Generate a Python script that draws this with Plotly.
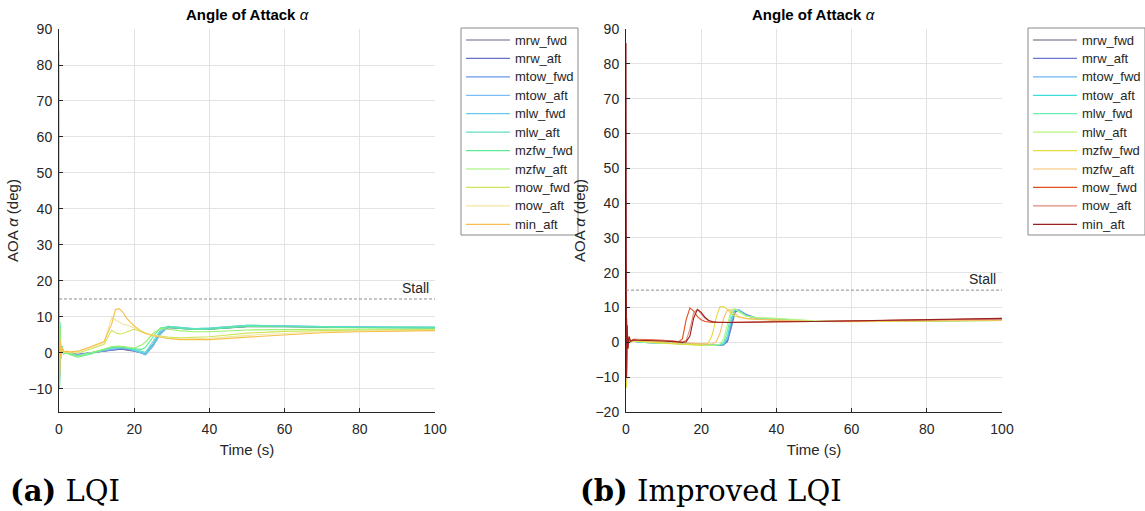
import plotly.graph_objects as go

# ---------------------------------------------------------------
# Series names (same set for both controllers)
# ---------------------------------------------------------------
names = ["mrw_fwd", "mrw_aft", "mtow_fwd", "mtow_aft", "mlw_fwd", "mlw_aft",
         "mzfw_fwd", "mzfw_aft", "mow_fwd", "mow_aft", "min_aft"]

colors_lqi = ["#6b6684", "#6a74c6", "#6a98ee", "#7cbcf6", "#62cce6", "#5fdfc6",
              "#5ceb94", "#9af06c", "#cfe65c", "#f2e6a2", "#f7bf4a"]
colors_imp = ["#6b5a78", "#6a78d0", "#6cb6f6", "#3fdcdc", "#6cefb0", "#b8f57a",
              "#e4dc3a", "#f6bd6a", "#e0501c", "#e08a78", "#982020"]

# ---------------------------------------------------------------
# (a) LQI : time grid and angle of attack (deg) per configuration
# ---------------------------------------------------------------
t_lqi = [0, 0.15, 0.3, 0.5, 0.8, 1.2, 2, 3, 5, 8, 12, 14, 15, 16, 17, 18, 20,
         22, 23, 25, 27, 29, 32, 36, 40, 50, 60, 70, 80, 100]

lqi_mrw_fwd = [2.0, -6.0, 5.0, -1.0, 1.5, 0.0, 0.3, 0.0, -0.4, 0.0, 0.6, 0.8, 0.9,
               1.0, 1.0, 0.9, 0.5, 0.0, -0.2, 2.5, 5.8, 7.1, 6.8, 6.5, 6.6, 7.3,
               7.3, 7.2, 7.1, 7.0]
lqi_mrw_aft = [2.0, -6.5, 5.5, -1.0, 1.5, 0.0, 0.3, 0.0, -0.5, 0.0, 0.6, 0.9, 1.0,
               1.1, 1.1, 1.0, 0.6, 0.0, -0.3, 2.2, 5.6, 7.1, 6.9, 6.6, 6.7, 7.4,
               7.4, 7.2, 7.1, 7.0]
lqi_mtow_fwd = [2.0, -7.0, 6.0, -1.2, 1.6, 0.0, 0.3, 0.0, -0.5, 0.0, 0.7, 1.0, 1.1,
                1.2, 1.2, 1.1, 0.6, -0.1, -0.4, 2.0, 5.4, 7.2, 6.9, 6.6, 6.7, 7.5,
                7.4, 7.2, 7.1, 7.0]
lqi_mtow_aft = [2.0, -7.5, 6.5, -1.3, 1.7, 0.0, 0.3, -0.1, -0.6, 0.0, 0.8, 1.2, 1.3,
                1.4, 1.4, 1.3, 0.8, 0.0, -0.6, 1.8, 5.2, 7.3, 7.0, 6.6, 6.8, 7.6,
                7.5, 7.3, 7.2, 7.1]
lqi_mlw_fwd = [2.0, -8.0, 7.0, -1.4, 1.8, 0.0, 0.2, -0.2, -0.7, -0.1, 0.9, 1.4, 1.5,
               1.5, 1.5, 1.3, 0.8, 0.1, -0.4, 2.4, 5.8, 7.4, 7.1, 6.7, 6.9, 7.7,
               7.5, 7.3, 7.2, 7.1]
lqi_mlw_aft = [2.0, -8.5, 7.5, -1.5, 1.8, 0.0, 0.2, -0.3, -0.8, -0.1, 1.0, 1.5, 1.6,
               1.6, 1.6, 1.4, 1.0, 0.4, 0.2, 3.2, 6.4, 7.4, 7.1, 6.8, 6.9, 7.7,
               7.5, 7.3, 7.2, 7.2]
lqi_mzfw_fwd = [2.0, -10.0, 8.5, -1.6, 1.9, -0.3, 0.0, -0.5, -1.2, -0.4, 0.9, 1.6, 1.7,
                1.7, 1.6, 1.4, 1.1, 1.0, 1.6, 4.5, 7.0, 7.2, 6.8, 6.5, 6.6, 7.4,
                7.3, 7.1, 7.0, 6.9]
lqi_mzfw_aft = [2.0, -9.0, 7.0, -1.2, 1.6, -0.2, 0.2, -0.3, -0.9, -0.1, 1.1, 1.8, 1.9,
                1.9, 1.8, 1.7, 1.4, 2.2, 3.0, 5.4, 6.8, 6.6, 6.2, 5.9, 5.9, 6.4,
                6.6, 6.6, 6.6, 6.6]
lqi_mow_fwd = [30.0, -5.0, 3.0, -0.8, 1.2, 0.2, 0.3, 0.0, 0.0, 1.0, 2.4, 6.3, 5.6,
               5.3, 5.4, 5.8, 6.6, 5.8, 5.4, 5.0, 4.6, 4.4, 4.2, 4.3, 4.5, 5.5,
               6.0, 6.2, 6.3, 6.5]
lqi_mow_aft = [80.0, -6.0, 3.0, -1.0, 1.4, 0.2, 0.4, 0.2, 0.3, 1.3, 2.9, 9.8, 9.2,
               8.4, 8.0, 7.8, 6.9, 6.0, 5.6, 4.9, 4.4, 4.1, 3.9, 3.9, 4.1, 4.9,
               5.5, 5.9, 6.1, 6.3]
lqi_min_aft = [84.0, -7.0, 3.5, -1.0, 1.5, 0.3, 0.5, 0.3, 0.5, 1.6, 3.2, 8.0, 12.0,
               12.3, 11.3, 9.6, 7.5, 6.0, 5.4, 4.8, 4.3, 4.0, 3.7, 3.7, 3.7, 4.4,
               5.1, 5.6, 5.9, 6.2]

# ---------------------------------------------------------------
# (b) Improved LQI : time grid and angle of attack (deg)
# ---------------------------------------------------------------
t_imp = [0, 0.15, 0.3, 0.5, 0.8, 1.2, 2, 3, 5, 10, 13, 14, 15, 16, 17, 18, 19,
         20, 21, 22, 23, 24, 25, 26, 27, 28, 29, 30, 32, 35, 40, 50, 60, 80, 100]

imp_mrw_fwd = [2.0, -3.0, 3.0, -1.0, 1.0, 0.2, 0.3, 0.2, 0.0, -0.2, -0.3, -0.4, -0.4,
               -0.5, -0.5, -0.6, -0.6, -0.7, -0.7, -0.8, -0.8, -0.8, -0.8, -0.7, 0.5,
               5.0, 8.8, 9.2, 7.8, 6.8, 6.4, 6.0, 6.0, 6.2, 6.4]
imp_mrw_aft = [2.0, -3.5, 3.2, -1.0, 1.0, 0.2, 0.3, 0.2, 0.0, -0.2, -0.3, -0.4, -0.4,
               -0.5, -0.5, -0.6, -0.6, -0.7, -0.7, -0.8, -0.8, -0.8, -0.8, -0.7, 0.2,
               4.2, 8.6, 9.3, 8.0, 6.9, 6.5, 6.0, 6.0, 6.2, 6.4]
imp_mtow_fwd = [2.0, -4.0, 3.5, -1.1, 1.1, 0.2, 0.3, 0.2, 0.0, -0.2, -0.3, -0.4, -0.4,
                -0.5, -0.5, -0.6, -0.6, -0.7, -0.7, -0.8, -0.8, -0.8, -0.8, -0.6, 1.0,
                5.8, 9.2, 9.3, 7.7, 6.8, 6.5, 6.0, 6.0, 6.2, 6.4]
imp_mtow_aft = [2.0, -4.5, 3.8, -1.2, 1.2, 0.2, 0.3, 0.2, 0.0, -0.2, -0.3, -0.4, -0.5,
                -0.5, -0.6, -0.6, -0.7, -0.7, -0.8, -0.8, -0.8, -0.8, -0.7, -0.4, 1.8,
                6.8, 9.4, 9.2, 7.6, 6.9, 6.6, 6.0, 6.0, 6.2, 6.3]
imp_mlw_fwd = [2.0, -5.0, 4.0, -1.3, 1.3, 0.2, 0.3, 0.2, 0.0, -0.2, -0.3, -0.4, -0.5,
               -0.5, -0.6, -0.6, -0.7, -0.7, -0.8, -0.8, -0.8, -0.8, -0.6, 0.2, 3.4,
               8.4, 9.6, 9.0, 7.6, 7.0, 6.8, 6.1, 6.0, 6.2, 6.3]
imp_mlw_aft = [2.0, -6.0, 4.5, -1.4, 1.4, 0.2, 0.3, 0.2, 0.0, -0.3, -0.4, -0.5, -0.6,
               -0.6, -0.7, -0.7, -0.8, -0.8, -0.9, -0.9, -0.9, -0.8, -0.5, 1.0, 5.0,
               9.4, 9.6, 8.7, 7.5, 7.1, 6.9, 6.2, 6.0, 6.2, 6.3]
imp_mzfw_fwd = [2.0, -13.0, 7.0, -2.0, 1.8, 0.0, 0.5, 0.4, 0.3, -0.1, -0.4, -0.5, -0.5,
                -0.6, -0.6, -0.7, -0.8, -0.8, -0.6, 0.0, 2.4, 7.2, 10.3, 10.2, 9.4,
                8.3, 7.6, 7.2, 6.9, 6.6, 6.4, 6.0, 5.9, 6.1, 6.3]
imp_mzfw_aft = [2.0, -11.0, 6.0, -1.8, 1.7, 0.1, 0.6, 0.5, 0.5, 0.2, 0.0, -0.1, -0.2,
                -0.3, -0.3, -0.4, -0.4, -0.5, -0.5, -0.5, -0.4, 0.2, 2.6, 7.0, 9.4,
                9.2, 8.2, 7.4, 6.8, 6.6, 6.4, 6.0, 6.0, 6.2, 6.4]
imp_mow_fwd = [4.0, -8.0, 4.5, -1.5, 1.5, 0.3, 0.9, 0.8, 0.8, 0.6, 0.3, 0.2, 1.0,
               6.5, 9.9, 9.0, 7.4, 6.5, 6.0, 5.8, 5.7, 5.7, 5.7, 5.7, 5.7, 5.7,
               5.7, 5.8, 5.8, 5.8, 5.9, 6.0, 6.2, 6.5, 6.8]
imp_mow_aft = [6.0, -8.5, 4.8, -1.6, 1.5, 0.3, 0.8, 0.7, 0.7, 0.5, 0.3, 0.2, 0.1,
               0.5, 3.8, 8.5, 9.4, 8.2, 6.9, 6.2, 5.9, 5.8, 5.7, 5.7, 5.7, 5.7,
               5.7, 5.7, 5.8, 5.8, 5.9, 6.0, 6.2, 6.5, 6.7]
imp_min_aft = [86.0, -10.0, 5.0, -1.8, 1.6, 0.3, 0.7, 0.6, 0.6, 0.4, 0.2, 0.1, 0.0,
               0.2, 1.8, 7.0, 9.5, 8.6, 7.2, 6.3, 5.9, 5.8, 5.7, 5.7, 5.7, 5.7,
               5.7, 5.7, 5.8, 5.8, 5.9, 6.0, 6.2, 6.6, 6.9]

stall_aoa = 15.0

lqi_series = [lqi_mrw_fwd, lqi_mrw_aft, lqi_mtow_fwd, lqi_mtow_aft, lqi_mlw_fwd,
              lqi_mlw_aft, lqi_mzfw_fwd, lqi_mzfw_aft, lqi_mow_fwd, lqi_mow_aft,
              lqi_min_aft]
imp_series = [imp_mrw_fwd, imp_mrw_aft, imp_mtow_fwd, imp_mtow_aft, imp_mlw_fwd,
              imp_mlw_aft, imp_mzfw_fwd, imp_mzfw_aft, imp_mow_fwd, imp_mow_aft,
              imp_min_aft]

# ---------------------------------------------------------------
# Figure
# ---------------------------------------------------------------
W, H = 1145, 511
INK = "#262626"
SANS = "Liberation Sans, Arial, sans-serif"
SERIF = "DejaVu Serif, serif"


def px(xp):
    return xp / W


def py(yp):
    return 1 - yp / H


fig = go.Figure()

for name, col, ys in zip(names, colors_lqi, lqi_series):
    fig.add_trace(go.Scatter(x=t_lqi, y=ys, mode="lines", name=name,
                             line=dict(color=col, width=1.1),
                             xaxis="x", yaxis="y", showlegend=False))
for name, col, ys in zip(names, colors_imp, imp_series):
    fig.add_trace(go.Scatter(x=t_imp, y=ys, mode="lines", name=name,
                             line=dict(color=col, width=1.1),
                             xaxis="x2", yaxis="y2", showlegend=False))

# stall reference line on both panels
for xa, ya in (("x", "y"), ("x2", "y2")):
    fig.add_trace(go.Scatter(x=[0, 100], y=[stall_aoa, stall_aoa], mode="lines",
                             line=dict(color="#808080", width=0.9, dash="3px,2px"),
                             showlegend=False, hoverinfo="skip",
                             xaxis=xa, yaxis=ya))
    fig.add_annotation(x=99, y=stall_aoa, xref=xa, yref=ya, text="Stall",
                       showarrow=False, xanchor="right", yanchor="bottom",
                       yshift=1, font=dict(family=SANS, size=14, color=INK))

axis_common = dict(showline=True, linecolor=INK, linewidth=1, mirror=False,
                   showgrid=True, gridcolor="#e3e3e3", gridwidth=1,
                   zeroline=False, ticks="inside", ticklen=4, tickcolor=INK,
                   tickfont=dict(family=SANS, size=14, color=INK),
                   automargin=False)

xdom_a = [px(59), px(435)]
xdom_b = [px(626), px(1002)]
ydom = [py(412), py(29)]

x_title = dict(text="Time (s)", standoff=8, font=dict(family=SANS, size=15, color=INK))
y_title = dict(text="AOA <i>α</i> (deg)", standoff=6,
               font=dict(family=SANS, size=15, color=INK))

fig.update_layout(
    width=W, height=H,
    margin=dict(l=0, r=0, t=0, b=0, pad=0, autoexpand=False),
    paper_bgcolor="white", plot_bgcolor="white",
    showlegend=False,
    xaxis=dict(domain=xdom_a, range=[0, 100], dtick=20, anchor="y",
               ticklabelstandoff=4, title=x_title, **axis_common),
    yaxis=dict(domain=ydom, range=[-16.4, 90], dtick=10, anchor="x",
               ticklabelstandoff=3, title=y_title, **axis_common),
    xaxis2=dict(domain=xdom_b, range=[0, 100], dtick=20, anchor="y2",
                ticklabelstandoff=4, title=x_title, **axis_common),
    yaxis2=dict(domain=ydom, range=[-20, 90], dtick=10, anchor="x2",
                ticklabelstandoff=3, title=y_title, **axis_common),
)

# legend boxes (one per panel), built from the series names and colours
row0, row_step = 40.0, 18.43
for box_x, cols in ((461, colors_lqi), (1028, colors_imp)):
    fig.add_shape(type="rect", xref="paper", yref="paper",
                  x0=px(box_x), x1=px(box_x + 117), y0=py(235), y1=py(28),
                  line=dict(color="#8a8a8a", width=1), fillcolor="white", layer="above")
    for i, (name, col) in enumerate(zip(names, cols)):
        yy = row0 + i * row_step
        fig.add_shape(type="line", xref="paper", yref="paper",
                      x0=px(box_x + 5), x1=px(box_x + 49), y0=py(yy), y1=py(yy),
                      line=dict(color=col, width=1.2), layer="above")
        fig.add_annotation(x=px(box_x + 52), y=py(yy), xref="paper", yref="paper",
                           text=name, showarrow=False, xanchor="left",
                           yanchor="middle",
                           font=dict(family=SANS, size=13, color=INK))

# panel titles
for cx in ((xdom_a[0] + xdom_a[1]) / 2, (xdom_b[0] + xdom_b[1]) / 2):
    fig.add_annotation(x=cx, y=py(14), xref="paper", yref="paper",
                       text="<b>Angle of Attack</b> <i>α</i>", showarrow=False,
                       xanchor="center", yanchor="middle",
                       font=dict(family=SANS, size=15, color="black"))

# sub-figure captions
fig.add_annotation(x=px(8), y=py(491), xref="paper", yref="paper",
                   text="<b>(a)</b> LQI", showarrow=False, xanchor="left",
                   yanchor="middle", font=dict(family=SERIF, size=29, color="black"))
fig.add_annotation(x=px(578), y=py(491), xref="paper", yref="paper",
                   text="<b>(b)</b> Improved LQI", showarrow=False, xanchor="left",
                   yanchor="middle", font=dict(family=SERIF, size=29, color="black"))

fig.write_html("out.html")
